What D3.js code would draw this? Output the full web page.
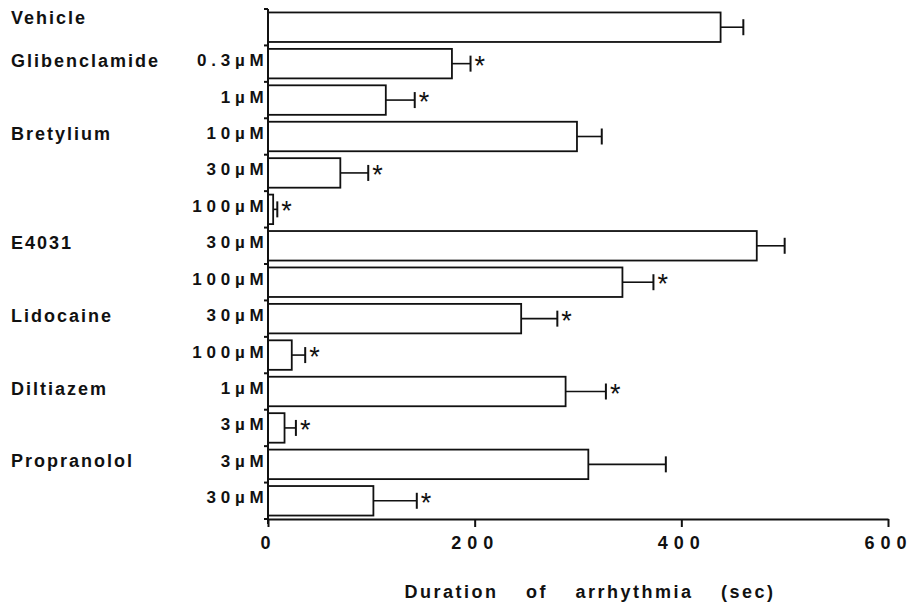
<!DOCTYPE html>
<html>
<head>
<meta charset="utf-8">
<script src="https://cdn.jsdelivr.net/npm/d3@7/dist/d3.min.js"></script>
<style>
  html, body { margin: 0; padding: 0; background: #fff; }
  svg { display: block; }
  text { font-family: "Liberation Sans", Arial, Helvetica, sans-serif; fill: #111; }
</style>
</head>
<body>
<svg id="chart" width="914" height="606"></svg>
<script>
// ---- data ----
const drugLabels = ["Vehicle", "Glibenclamide", "", "Bretylium", "", "", "E4031", "", "Lidocaine", "", "Diltiazem", "", "Propranolol", ""];
const doseLabels = ["", "0.3\u00b5M", "1\u00b5M", "10\u00b5M", "30\u00b5M", "100\u00b5M", "30\u00b5M", "100\u00b5M", "30\u00b5M", "100\u00b5M", "1\u00b5M", "3\u00b5M", "3\u00b5M", "30\u00b5M"];
const means = [438, 178, 114, 299, 70, 5, 473, 343, 245, 23, 288, 16, 310, 102];
const errors = [22, 18, 28, 24, 27, 4, 27, 30, 35, 13, 39, 11, 75, 42];
const significant = [false, true, true, false, true, true, false, true, true, true, true, true, false, true];
const xTicks = [0, 200, 400, 600];
const xTitle = "Duration of arrhythmia (sec)";

// ---- layout ----
const svg = d3.select("#chart");
const x = d3.scaleLinear().domain([0, 600]).range([268, 888]);
const rows = d3.range(means.length);
const y = d3.scaleBand().domain(rows).range([9, 519]).paddingInner(0.19).paddingOuter(0.095);
const step = y.step();
const off = step * y.paddingInner() / 2;
const boundaries = rows.map(i => y(i) - off).concat([y(rows.length - 1) + y.bandwidth() + off]);
const x0 = x(0);

// bars
svg.append("g").selectAll("rect").data(rows).join("rect")
  .attr("x", x0)
  .attr("y", i => y(i))
  .attr("width", i => x(means[i]) - x0)
  .attr("height", y.bandwidth())
  .attr("fill", "#fff")
  .attr("stroke", "#111")
  .attr("stroke-width", 1.8);

// error bars
const eb = svg.append("g").attr("stroke", "#111");
eb.selectAll("line.h").data(rows).join("line")
  .attr("class", "h")
  .attr("x1", i => x(means[i])).attr("x2", i => x(means[i] + errors[i]))
  .attr("y1", i => y(i) + y.bandwidth() / 2).attr("y2", i => y(i) + y.bandwidth() / 2)
  .attr("stroke-width", 1.6);
eb.selectAll("line.c").data(rows).join("line")
  .attr("class", "c")
  .attr("x1", i => x(means[i] + errors[i])).attr("x2", i => x(means[i] + errors[i]))
  .attr("y1", i => y(i) + y.bandwidth() / 2 - 8).attr("y2", i => y(i) + y.bandwidth() / 2 + 8)
  .attr("stroke-width", 2);

// stars
svg.append("g").selectAll("text").data(rows.filter(i => significant[i])).join("text")
  .attr("x", i => x(means[i] + errors[i]) + 4)
  .attr("y", i => y(i) + y.bandwidth() / 2 + 11)
  .attr("font-size", 27)
  .attr("font-weight", "normal")
  .attr("fill", "#222")
  .text("*");

// y axis line and ticks
svg.append("line")
  .attr("x1", x0).attr("x2", x0)
  .attr("y1", boundaries[0]).attr("y2", boundaries[boundaries.length - 1] + 5)
  .attr("stroke", "#111").attr("stroke-width", 2);
svg.append("g").selectAll("line").data(boundaries).join("line")
  .attr("x1", x0 - 4).attr("x2", x0)
  .attr("y1", d => d).attr("y2", d => d)
  .attr("stroke", "#111").attr("stroke-width", 2);

// x axis
const xAxis = svg.append("g")
  .attr("transform", `translate(0,${boundaries[boundaries.length - 1]})`)
  .call(d3.axisBottom(x).tickValues(xTicks).tickSize(8).tickSizeOuter(0).tickFormat(d3.format("d")));
xAxis.select(".domain").attr("stroke", "#111").attr("stroke-width", 2);
xAxis.selectAll(".tick line").attr("stroke", "#111").attr("stroke-width", 2);
xAxis.selectAll(".tick text")
  .attr("y", 17)
  .style("font-family", "'Liberation Sans', Arial, Helvetica, sans-serif")
  .style("font-size", "18px")
  .style("font-weight", "bold")
  .style("letter-spacing", "6px")
  .attr("fill", "#111");

// dose labels
svg.append("g").selectAll("text").data(rows.filter(i => doseLabels[i])).join("text")
  .attr("x", x0 + 0.5)
  .attr("y", i => y(i) + y.bandwidth() / 2 - 3)
  .attr("dominant-baseline", "central")
  .attr("text-anchor", "end")
  .attr("font-size", 17)
  .attr("font-weight", "bold")
  .style("letter-spacing", "4.8px")
  .text(i => doseLabels[i]);

// drug labels
svg.append("g").selectAll("text").data(rows.filter(i => drugLabels[i])).join("text")
  .attr("x", 11)
  .attr("y", i => y(i) + y.bandwidth() / 2 - (i === 0 ? 9 : 3))
  .attr("dominant-baseline", "central")
  .attr("font-size", 18)
  .attr("font-weight", "bold")
  .style("letter-spacing", "2px")
  .text(i => drugLabels[i]);

// x title
svg.append("text")
  .attr("x", 590)
  .attr("y", 592)
  .attr("text-anchor", "middle")
  .attr("dominant-baseline", "central")
  .attr("font-size", 18)
  .attr("font-weight", "bold")
  .style("letter-spacing", "2.5px")
  .style("word-spacing", "20px")
  .text(xTitle);
</script>
</body>
</html>
